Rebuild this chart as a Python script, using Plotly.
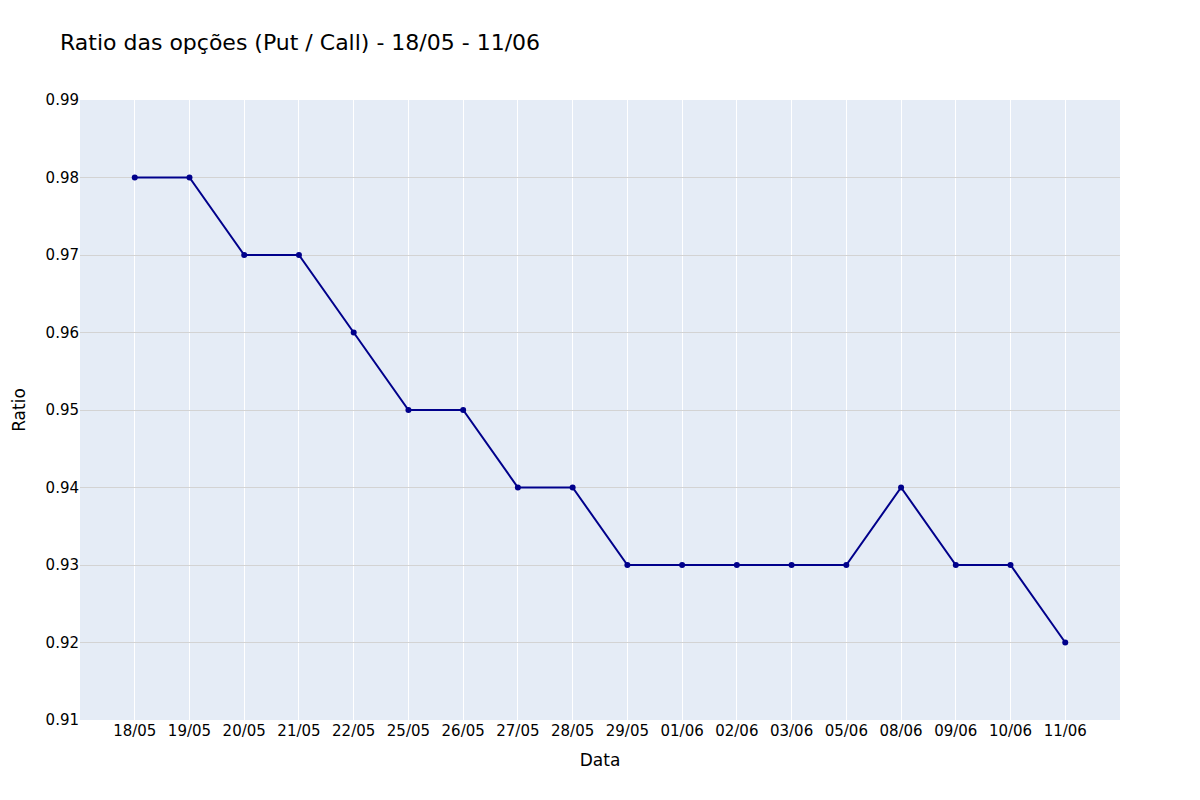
import plotly.graph_objects as go

# Dados do ratio Put/Call
datas = ['18/05', '19/05', '20/05', '21/05', '22/05', '25/05', '26/05', '27/05', '28/05',
         '29/05', '01/06', '02/06', '03/06', '05/06', '08/06', '09/06', '10/06', '11/06']
ratio = [0.98, 0.98, 0.97, 0.97, 0.96, 0.95, 0.95, 0.94, 0.94,
         0.93, 0.93, 0.93, 0.93, 0.93, 0.94, 0.93, 0.93, 0.92]

fig = go.Figure()
fig.add_trace(go.Scatter(
    x=datas,
    y=ratio,
    mode='lines+markers',
    line=dict(color='darkblue', width=2),
    marker=dict(color='darkblue', size=6),
))

fig.update_layout(
    title=dict(text='Ratio das opções (Put / Call) - 18/05 - 11/06', x=0.05,
               font=dict(size=22)),
    width=1200,
    height=800,
    font=dict(family='Verdana, DejaVu Sans, sans-serif', size=15, color='black'),
    plot_bgcolor='#E5ECF6',
    paper_bgcolor='white',
    margin=dict(l=80, r=80, t=100, b=80),
    showlegend=False,
    xaxis=dict(title=dict(text='Data', font=dict(size=17)), type='category',
               range=[-1, len(datas)],
               showgrid=True, gridcolor='white', zeroline=False),
    yaxis=dict(title=dict(text='Ratio', font=dict(size=17)), range=[0.91, 0.99],
               dtick=0.01, tickformat='.2f',
               showgrid=True, gridcolor='lightgray', zeroline=False),
)

# tira a margem do body para a figura ficar no canto
fig.write_html("out.html", config={'displayModeBar': False},
               post_script="document.body.style.margin='0';")
